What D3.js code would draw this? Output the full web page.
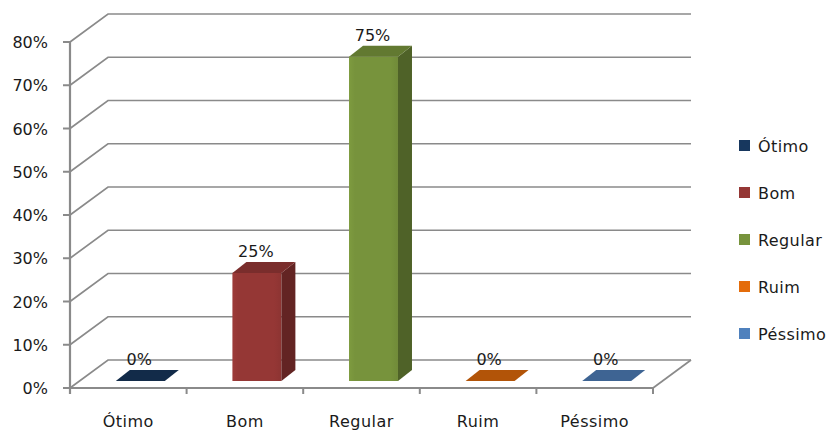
<!DOCTYPE html>
<html>
<head>
<meta charset="utf-8">
<script src="https://cdn.jsdelivr.net/npm/d3@7/dist/d3.min.js"></script>
<style>
  html, body { margin: 0; padding: 0; background: #ffffff; }
  svg { display: block; }
  text { font-family: "DejaVu Sans", sans-serif; fill: #1a1a1a; }
</style>
</head>
<body>
<svg id="chart" width="837" height="430"></svg>
<script>
// Avaliação: percentual de respostas por categoria
const categories = ["Ótimo", "Bom", "Regular", "Ruim", "Péssimo"];
const values = [0, 25, 75, 0, 0];
const yTicks = [0, 10, 20, 30, 40, 50, 60, 70, 80];
const yTickLabels = ["0%", "10%", "20%", "30%", "40%", "50%", "60%", "70%", "80%"];
const palette = ["#17375E", "#953735", "#77933C", "#E46C0A", "#4F81BD"];

const svg = d3.select("#chart");
const defs = svg.append("defs");

// plot frame (front plane) and oblique depth of the 3D box
const frame = { left: 70, right: 653, top: 42, bottom: 388 };
const wall = { dx: 38, dy: -28 };      // back wall offset
const barFront = { dx: 12, dy: -7 };   // front face of the columns
const barDepth = { dx: 14, dy: -11 };  // column thickness

const x = d3.scaleBand()
  .domain(categories)
  .range([frame.left, frame.right])
  .paddingInner(0.58)
  .paddingOuter(0.29);

const y = d3.scaleLinear()
  .domain([0, 80])
  .range([frame.bottom, frame.top]);

const grid = svg.append("g").attr("fill", "none");

// gridlines: side-wall diagonal + back-wall horizontal
yTicks.forEach(t => {
  const yf = y(t);
  grid.append("path")
    .attr("d", `M${frame.left},${yf} L${frame.left + wall.dx},${yf + wall.dy} L${frame.right + wall.dx},${yf + wall.dy}`)
    .attr("stroke", "#8a8a8a")
    .attr("stroke-width", 1.7);
});

// floor right edge
grid.append("line")
  .attr("x1", frame.right).attr("y1", frame.bottom)
  .attr("x2", frame.right + wall.dx).attr("y2", frame.bottom + wall.dy)
  .attr("stroke", "#8a8a8a").attr("stroke-width", 1.7);

// columns
const bars = svg.append("g");
categories.forEach((c, i) => {
  const v = values[i];
  const base = d3.color(palette[i]);
  const x0 = x(c) + barFront.dx;
  const x1 = x0 + x.bandwidth();
  const yTop = y(v) + barFront.dy;
  const yBot = y(0) + barFront.dy;
  const topColor = base.darker(v > 0 ? 0.55 : 0.7);
  if (v > 0) {
    // soft horizontal shading on the front face
    const gid = `face-${i}`;
    const grad = defs.append("linearGradient").attr("id", gid)
      .attr("x1", "0").attr("x2", "1").attr("y1", "0").attr("y2", "0");
    grad.append("stop").attr("offset", "0").attr("stop-color", base.brighter(0.15).formatHex());
    grad.append("stop").attr("offset", "0.12").attr("stop-color", base.formatHex());
    grad.append("stop").attr("offset", "0.85").attr("stop-color", base.formatHex());
    grad.append("stop").attr("offset", "1").attr("stop-color", base.darker(0.15).formatHex());
    bars.append("rect")
      .attr("x", x0).attr("y", yTop)
      .attr("width", x1 - x0).attr("height", yBot - yTop)
      .attr("fill", `url(#${gid})`);
    bars.append("path")
      .attr("d", `M${x1},${yTop} L${x1 + barDepth.dx},${yTop + barDepth.dy} L${x1 + barDepth.dx},${yBot + barDepth.dy} L${x1},${yBot} Z`)
      .attr("fill", base.darker(1.15).formatHex());
  }
  bars.append("path")
    .attr("d", `M${x0},${yTop} L${x0 + barDepth.dx},${yTop + barDepth.dy} L${x1 + barDepth.dx},${yTop + barDepth.dy} L${x1},${yTop} Z`)
    .attr("fill", topColor.formatHex());

  // value label
  svg.append("text")
    .attr("x", (x0 + x1) / 2 - 1)
    .attr("y", yTop - 16)
    .attr("text-anchor", "middle")
    .attr("font-size", 16)
    .text(d3.format(".0%")(v / 100));
});

// value axis
const yAxis = svg.append("g");
yAxis.append("line")
  .attr("x1", frame.left).attr("y1", frame.top)
  .attr("x2", frame.left).attr("y2", frame.bottom + 6)
  .attr("stroke", "#8a8a8a").attr("stroke-width", 2.2);
yTicks.forEach((t, i) => {
  yAxis.append("line")
    .attr("x1", frame.left - 7).attr("x2", frame.left)
    .attr("y1", y(t)).attr("y2", y(t))
    .attr("stroke", "#8a8a8a").attr("stroke-width", 2);
  yAxis.append("text")
    .attr("x", 48).attr("y", y(t) + 6)
    .attr("text-anchor", "end")
    .attr("font-size", 16)
    .text(yTickLabels[i]);
});

// category axis
const xAxis = svg.append("g");
xAxis.append("line")
  .attr("x1", frame.left).attr("x2", frame.right)
  .attr("y1", frame.bottom).attr("y2", frame.bottom)
  .attr("stroke", "#8a8a8a").attr("stroke-width", 2.2);
const step = x.step();
d3.range(categories.length + 1).forEach(k => {
  const xt = frame.left + k * step;
  xAxis.append("line")
    .attr("x1", xt).attr("x2", xt)
    .attr("y1", frame.bottom).attr("y2", frame.bottom + 6)
    .attr("stroke", "#8a8a8a").attr("stroke-width", 2);
});
categories.forEach(c => {
  xAxis.append("text")
    .attr("x", x(c) + x.bandwidth() / 2)
    .attr("y", 427)
    .attr("text-anchor", "middle")
    .attr("font-size", 16)
    .attr("letter-spacing", 0.5)
    .text(c);
});

// legend
const legend = svg.append("g").attr("transform", "translate(739,146)");
categories.forEach((c, i) => {
  const g = legend.append("g").attr("transform", `translate(0,${i * 47})`);
  g.append("rect").attr("x", 0).attr("y", -6).attr("width", 11).attr("height", 11)
    .attr("fill", palette[i]);
  g.append("text").attr("x", 19).attr("y", 6)
    .attr("font-size", 16)
    .attr("letter-spacing", 0.4)
    .text(c);
});
</script>
</body>
</html>
